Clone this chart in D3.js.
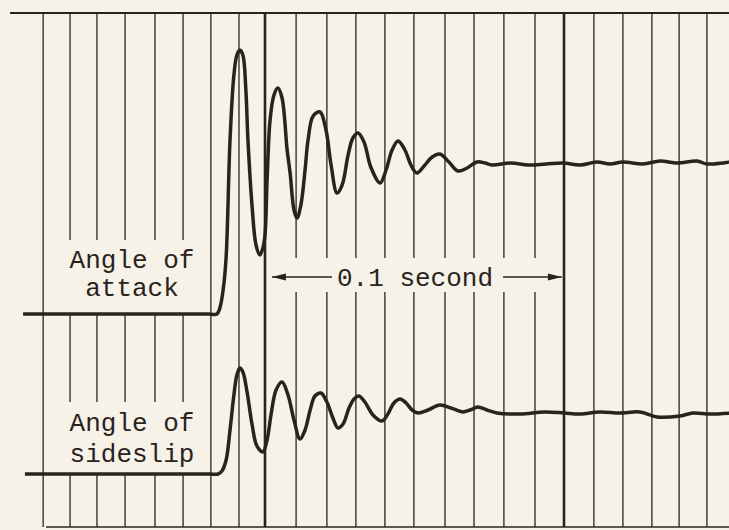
<!DOCTYPE html>
<html>
<head>
<meta charset="utf-8">
<title>Angle of attack and sideslip record</title>
<style>
  body { margin: 0; background: #f6f2e8; }
  svg { display: block; }
  .lbl { font-family: "Courier New", "Liberation Mono", monospace; font-size: 26px; fill: #2a231d; }
</style>
</head>
<body>
<div id="chart"></div>
<script src="https://cdnjs.cloudflare.com/ajax/libs/d3/7.8.5/d3.min.js"></script>
<script>
// timing lines, milliseconds from the first heavy line (heavy = every 0.1 s)
var timingLines = [-74.2, -65.2, -56.2, -46.8, -36.8, -27.4, -18.1, -8.7, 0,
  10.4, 20.7, 30.4, 40.1, 49.8, 60.2, 69.9, 79.9, 90.3, 100,
  110.0, 119.7, 129.4, 138.5, 147.8];
var heavyLines = [0, 100];

// angle of attack trace: time (ms), deflection (record units)
var alphaTime = [-80.9, -70, -60, -50, -40, -30, -23, -19, -16.1, -15.1, -14.0, -13.0, -11.7,
  -10.4, -9.4, -8.4, -7.4, -6.4, -5.7,
  -4.3, -3.0, -1.7, -0.7, 0, 0.7, 1.7, 3.0, 4.3, 5.7, 7.4, 8.4, 9.7, 10.7, 12.0, 13.4,
  14.4, 16.1, 18.4, 20.4, 22.1, 24.1, 25.8, 27.8, 29.4, 31.1, 33.1, 35.5, 38.5, 40.5,
  42.5, 44.5, 46.8, 48.8, 50.8, 53.2, 55.9, 58.5, 61.5, 64.5, 67.6, 70.9, 73.6, 75.9,
  82.3, 88.0, 94.0, 99.7, 105.4, 111.0, 115.4, 119.7, 126.4, 132.1, 137.8, 144.5, 147.8, 155.2];
var alphaValue = [0, 0, 0, 0, 0, 0, 0, 0, 0, 0.6, 2.4, 5.7, 17.4,
  23.9, 25.9, 26.4, 25.9, 22.4, 17.4,
  10.7, 6.9, 5.9, 6.6, 7.9, 13.4, 19.4, 21.9, 22.6, 21.6, 16.4, 14.1, 10.4, 9.6, 10.9, 14.4,
  17.4, 19.8, 20.2, 18.4, 14.9, 12.1, 12.9, 15.9, 17.6, 18.1, 17.2, 14.6, 13.1, 14.4,
  16.4, 17.3, 16.4, 14.9, 14.1, 14.8, 15.7, 16.0, 15.2, 14.3, 14.6, 15.2, 15.1, 14.9,
  15.1, 14.9, 15.0, 15.1, 14.9, 15.2, 15.0, 15.2, 15.0, 15.3, 15.1, 15.3, 15.0, 15.2];

// angle of sideslip trace
var betaTime = [-80.3, -70, -60, -50, -40, -30, -23, -18.5, -15.7, -14.4, -13.0, -11.7,
  -10.4, -9.4, -8.4, -7.4, -6.0, -4.3, -2.7,
  -0.7, 0.7, 2.0, 3.7, 5.7, 7.7, 9.7, 11.7, 13.4, 15.1, 16.7, 18.7, 20.7, 22.7, 24.4,
  26.1, 28.1, 29.8, 31.4, 33.4, 36.1, 39.1, 41.1, 43.1, 45.2, 47.2, 49.2, 51.2, 54.5,
  58.5, 62.2, 66.2, 68.6, 71.2, 74.2, 77.6, 85.3, 93.6, 100, 105.4, 112.0, 118.7, 125.4,
  131.1, 138.8, 143.1, 148.8, 155.9];
var betaValue = [0, 0, 0, 0, 0, 0, 0, 0, 0, 0.3, 1.4, 4.4,
  7.9, 9.9, 10.6, 10.2, 8.2, 4.9, 2.8,
  2.2, 3.4, 5.9, 8.4, 9.2, 7.9, 5.4, 3.5, 4.4, 6.4, 7.8, 8.1, 7.2, 5.6, 4.6,
  5.0, 6.6, 7.5, 7.8, 7.2, 5.9, 5.3, 6.0, 7.1, 7.5, 7.1, 6.4, 6.1, 6.4,
  6.9, 6.6, 6.2, 6.4, 6.7, 6.4, 6.1, 6.0, 6.2, 6.1, 6.0, 6.2, 6.1, 6.2,
  5.7, 5.8, 6.1, 6.0, 6.1];

var alphaLabel = ["Angle of", "attack"];
var betaLabel = ["Angle of", "sideslip"];
var periodLabel = "0.1 second";

var width = 729, height = 530;
var ink = "#2a231d";

var x = d3.scaleLinear().domain([0, 100]).range([265, 564]);
var y = d3.scaleLinear().domain([0, 10]).range([0, -100]);
var alphaBase = 314, betaBase = 474;
var topY = 13, bottomY = 527;

var svg = d3.select("#chart").append("svg")
  .attr("width", width)
  .attr("height", height);

svg.append("rect").attr("width", width).attr("height", height).attr("fill", "#f6f2e8");

// vertical timing lines, broken where the labels sit
function segments(t, i) {
  if (i === 0 || i === 6 || i === 7 || t === 0 || t >= 100) return [[topY, bottomY]];
  if (t < 0) return [[topY, 240], [alphaBase, 402], [betaBase, bottomY]];
  return [[topY, 258], [292, bottomY]];
}
var segs = [];
timingLines.forEach(function(t, i) {
  segments(t, i).forEach(function(s) { segs.push({t: t, y0: s[0], y1: s[1]}); });
});
svg.append("g").selectAll("line")
  .data(segs)
  .enter()
  .append("line")
  .attr("x1", function(d) { return x(d.t); })
  .attr("x2", function(d) { return x(d.t); })
  .attr("y1", function(d) { return d.y0; })
  .attr("y2", function(d) { return d.y1; })
  .attr("stroke", ink)
  .attr("stroke-width", function(d) { return heavyLines.indexOf(d.t) >= 0 ? 2.6 : 1.3; });

// top and bottom edge lines
svg.append("line").attr("x1", 10).attr("x2", width).attr("y1", topY).attr("y2", topY)
  .attr("stroke", ink).attr("stroke-width", 2.2);
svg.append("line").attr("x1", 46).attr("x2", width).attr("y1", bottomY).attr("y2", bottomY)
  .attr("stroke", ink).attr("stroke-width", 1.6);

// traces
var line = d3.line()
  .x(function(d) { return x(d[0]); })
  .y(function(d) { return y(d[1]); })
  .curve(d3.curveCatmullRom.alpha(0.5));

svg.append("path")
  .datum(d3.zip(alphaTime, alphaValue))
  .attr("transform", "translate(0," + alphaBase + ")")
  .attr("d", line)
  .attr("fill", "none").attr("stroke", ink).attr("stroke-width", 3.5).attr("stroke-linejoin", "round");

svg.append("path")
  .datum(d3.zip(betaTime, betaValue))
  .attr("transform", "translate(0," + betaBase + ")")
  .attr("d", line)
  .attr("fill", "none").attr("stroke", ink).attr("stroke-width", 3.5).attr("stroke-linejoin", "round");

// labels
function label(lines, ys) {
  svg.append("g").selectAll("text")
    .data(lines)
    .enter()
    .append("text")
    .attr("class", "lbl")
    .attr("x", 132)
    .attr("y", function(d, i) { return ys[i]; })
    .attr("text-anchor", "middle")
    .text(function(d) { return d; });
}
label(alphaLabel, [268, 296]);
label(betaLabel, [431, 462]);

// 0.1 second marker
var arrowY = 277;
svg.append("text").attr("class", "lbl")
  .attr("x", 415).attr("y", 286).attr("text-anchor", "middle")
  .text(periodLabel);
var tipL = x(2.3), tipR = x(99.3);
svg.append("line").attr("x1", tipL).attr("x2", 332).attr("y1", arrowY).attr("y2", arrowY)
  .attr("stroke", ink).attr("stroke-width", 1.6);
svg.append("line").attr("x1", 503).attr("x2", tipR).attr("y1", arrowY).attr("y2", arrowY)
  .attr("stroke", ink).attr("stroke-width", 1.6);
svg.append("path")
  .attr("d", "M" + tipL + "," + arrowY + "L" + (tipL + 14) + "," + (arrowY - 3.5) + "L" + (tipL + 14) + "," + (arrowY + 3.5) + "Z")
  .attr("fill", ink);
svg.append("path")
  .attr("d", "M" + tipR + "," + arrowY + "L" + (tipR - 14) + "," + (arrowY - 3.5) + "L" + (tipR - 14) + "," + (arrowY + 3.5) + "Z")
  .attr("fill", ink);
</script>
</body>
</html>
